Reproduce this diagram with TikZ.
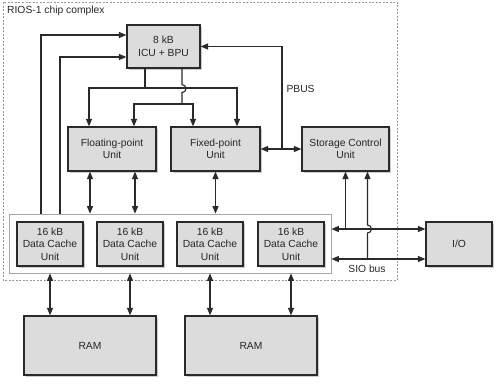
\documentclass[tikz,border=0pt]{standalone}
\usepackage{fontspec}
\setmainfont{Liberation Sans}
\usetikzlibrary{arrows.meta, positioning, shadows}
\definecolor{boxfill}{HTML}{DCDCDC}
\definecolor{wire}{HTML}{2A2A2A}
\tikzset{
  unitbox/.style={shape=rectangle, draw=wire, fill=boxfill, line width=1.2pt, align=center, inner sep=0pt,
    drop shadow={shadow xshift=1.5pt, shadow yshift=-1.5pt, opacity=0.4}},
  bus/.style={draw=wire, line width=1.15pt},
  tip/.style={bus, -{Triangle[length=7.5pt,width=6pt]}},
  bitip/.style={bus, {Triangle[length=7.5pt,width=6pt]}-{Triangle[length=7.5pt,width=6pt]}},
}

\begin{document}
\begin{tikzpicture}[x=1pt, y=-1pt, font=\fontsize{10.3}{12.4}\selectfont, text=black!85]
			\useasboundingbox (0,0) rectangle (500,384);
			% Chip boundary and cache group:
			\draw[draw=black!40, dash pattern=on 2pt off 1.5pt, line width=0.8pt] (3,2) rectangle (397,280);
			\node[anchor=west, inner sep=0pt] (chiplbl) at (7,11) {RIOS-1 chip complex};
			\node[shape=rectangle, draw=black!35, fill=white, line width=0.8pt, minimum width=322pt, minimum height=59pt] (dcgroup) at (170,243.5) {};
			% Units:
			\node[unitbox, minimum width=73pt, minimum height=43pt] (icu) at (163.5,46.5) {8 kB\\ICU + BPU};
			\node[unitbox, minimum width=88pt, minimum height=44pt] (fpu) at (112,149) {Floating-point\\Unit};
			\node[unitbox, minimum width=89pt, minimum height=44pt] (fxu) at (215.5,149) {Fixed-point\\Unit};
			\node[unitbox, minimum width=87pt, minimum height=44pt] (scu) at (345.5,149) {Storage Control\\Unit};
			\node[unitbox, minimum width=66pt, minimum height=44pt] (dc1) at (50,244) {16 kB\\Data Cache\\Unit};
			\node[unitbox, minimum width=66pt, minimum height=44pt] (dc2) at (130,244) {16 kB\\Data Cache\\Unit};
			\node[unitbox, minimum width=66pt, minimum height=44pt] (dc3) at (210,244) {16 kB\\Data Cache\\Unit};
			\node[unitbox, minimum width=66pt, minimum height=44pt] (dc4) at (291,244) {16 kB\\Data Cache\\Unit};
			\node[unitbox, minimum width=66pt, minimum height=44pt] (io) at (459,244) {I/O};
			\node[unitbox, minimum width=132pt, minimum height=59pt] (ram1) at (90,345.5) {RAM};
			\node[unitbox, minimum width=132pt, minimum height=59pt] (ram2) at (251,345.5) {RAM};
			% Dispatch from ICU:
			\coordinate (j1) at (145,88);
			\coordinate (j2) at (182,104);
			\draw[bus] (icu.south -| j1) -- (j1);
			\draw[tip] (j1) -| ([xshift=-23pt]fpu.north);
			\draw[tip] (j1) -| ([xshift=21.5pt]fxu.north);
			\draw[bus] (icu.south -| j2) -- ++(0,16) arc[start angle=90, end angle=-90, radius=4pt] -- (j2);
			\draw[tip] (j2) -| ([xshift=22pt]fpu.north);
			\draw[tip] (j2) -| ([xshift=-22.5pt]fxu.north);
			% Cache to ICU:
			\draw[tip] ([xshift=-129pt]dcgroup.north) |- ([yshift=11.5pt]icu.west);
			\draw[tip] ([xshift=-110pt]dcgroup.north) |- ([yshift=-10.5pt]icu.west);
			% PBUS:
			\coordinate (pb) at (282,149);
			\draw[tip] (pb) |- (icu.east);
			\draw[tip] (pb) -- (fxu.east);
			\draw[tip] (pb) -- (scu.west);
			\node[anchor=west] (pbuslbl) at (283,89) {PBUS};
			% Units to caches:
			\coordinate (fpa) at ([xshift=-22pt]fpu.south);
			\coordinate (fpb) at ([xshift=23pt]fpu.south);
			\draw[bitip] (fpa) -- (fpa |- dcgroup.north);
			\draw[bitip] (fpb) -- (fpb |- dcgroup.north);
			\draw[bitip] (fxu.south) -- (fxu.south |- dcgroup.north);
			% Caches to RAM:
			\draw[bitip] (dc1.south |- dcgroup.south) -- (dc1.south |- ram1.north);
			\draw[bitip] (dc2.south |- dcgroup.south) -- (dc2.south |- ram1.north);
			\draw[bitip] (dc3.south |- dcgroup.south) -- (dc3.south |- ram2.north);
			\draw[bitip] (dc4.south |- dcgroup.south) -- (dc4.south |- ram2.north);
			% SIO bus:
			\coordinate (busa) at ([yshift=15pt]io.west);
			\coordinate (busb) at ([yshift=-15pt]io.west);
			\coordinate (sca) at (scu.south);
			\coordinate (scb) at ([xshift=22pt]scu.south);
			\draw[bitip] (busa -| dcgroup.east) -- (busa);
			\draw[bitip] (busb -| dcgroup.east) -- (busb);
			\draw[tip] (sca |- busa) -- (sca);
			\draw[tip] (scb |- busb) -- ++(0,-26) arc[start angle=-90, end angle=90, radius=4pt] -- (scb);
			\node (siolbl) at (367,269) {SIO bus};
		\end{tikzpicture}
\end{document}
